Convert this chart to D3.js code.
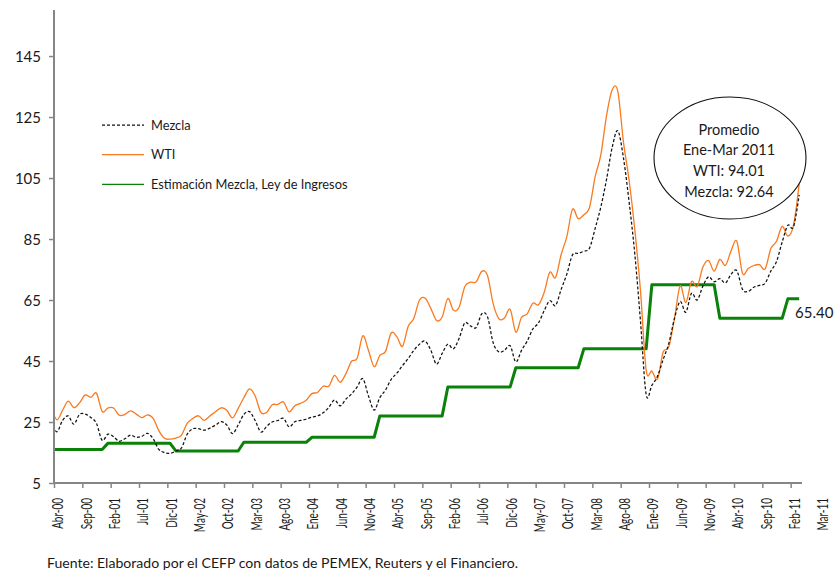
<!DOCTYPE html>
<html>
<head>
<meta charset="utf-8">
<script src="https://cdn.jsdelivr.net/npm/d3@7"></script>
<style>
  body { margin: 0; background: #fff; }
  svg { display: block; }
  text { font-family: Lato, "Open Sans", sans-serif; fill: #1a1a1a; }
</style>
</head>
<body>
<svg id="chart" width="834" height="573"></svg>
<script>
// Monthly prices, US$ per barrel. Index 0 is Mar-00 (it sits just left of the
// axis and is clipped); index 1 is Abr-00 ... last index is Mar-11.
const wti = [
  29.84,
  25.72, 28.79, 31.82, 29.70, 31.26, 33.88, 33.11, 34.42, 28.44,
  29.59, 29.61, 27.24, 27.49, 28.63, 27.60, 26.43, 27.37, 26.20, 22.17, 19.64, 19.39,
  19.72, 20.72, 24.53, 26.18, 27.04, 25.52, 26.97, 28.39, 29.66, 28.84, 26.35, 29.46,
  32.95, 35.83, 33.51, 28.17, 28.11, 30.66, 30.75, 31.57, 28.31, 30.34, 31.11, 32.13,
  34.31, 34.69, 36.74, 36.75, 40.28, 38.03, 40.78, 44.90, 45.94, 53.28, 48.47, 43.15,
  46.84, 48.15, 54.19, 52.98, 49.83, 56.35, 59.00, 64.99, 65.59, 62.26, 58.32, 59.41,
  65.49, 61.63, 62.69, 69.44, 70.84, 70.95, 74.41, 73.04, 63.80, 58.89, 59.08, 61.96,
  54.51, 59.28, 60.44, 63.98, 63.46, 67.49, 74.12, 72.36, 79.92, 85.80, 94.77, 91.69,
  92.97, 95.39, 105.45, 112.58, 125.40, 133.88, 133.37, 116.67, 104.11, 88.00, 68.00, 42.00,
  41.71, 39.09, 47.94, 49.65, 59.03, 69.64, 64.15, 71.05, 69.41, 75.72, 77.99, 74.47,
  78.33, 76.39, 81.20, 84.29, 73.74, 75.34, 76.32, 76.60, 75.24, 81.89, 84.25, 89.15,
  86.00, 89.50, 103.00
];

const mezcla = [
  25.2,
  21.8, 25.5, 27.0, 24.3, 27.5, 27.6, 26.5, 24.5, 19.0,
  21.0, 20.2, 18.7, 19.5, 20.7, 20.0, 20.3, 21.3, 19.5, 16.0, 15.0, 14.7,
  15.5, 16.5, 21.0, 22.8, 22.8, 22.3, 23.0, 24.0, 25.1, 24.0, 21.2, 24.0,
  27.5, 28.4, 25.5, 21.7, 23.5, 25.0, 25.5, 26.2, 23.4, 25.1, 25.5, 25.9,
  26.6, 27.0, 28.0, 29.8, 32.2, 30.3, 32.5, 34.2, 36.5, 39.2, 33.5, 28.9,
  33.0, 35.5, 39.0, 41.0, 43.5, 45.8, 48.5, 50.5, 51.5, 48.5, 44.0, 47.5,
  50.5, 49.0, 52.5, 57.5, 56.5, 56.0, 60.5, 59.5, 51.0, 48.0, 48.5, 50.0,
  44.7, 48.5, 51.5, 55.5, 57.5, 61.5, 64.8, 63.2, 68.5, 73.5, 79.8, 80.3,
  81.0, 82.0, 88.5, 95.5, 104.5, 115.0, 120.5, 111.5, 97.0, 80.0, 58.0, 34.0,
  37.0, 40.0, 45.5, 50.8, 59.0, 64.5, 61.0, 67.2, 65.0, 69.5, 72.6, 71.0,
  72.0, 70.6, 73.5, 74.6, 68.5, 67.8, 69.2, 69.8, 70.5, 74.5, 77.6, 84.0,
  89.5, 89.0, 99.5
];

// Oil price assumed each year in the Ley de Ingresos
const estimateYears  = [2000, 2001, 2002, 2003, 2004, 2005, 2006, 2007, 2008, 2009, 2010, 2011];
const estimateValues = [16.00, 18.00, 15.50, 18.35, 20.00, 27.00, 36.50, 42.80, 49.00, 70.00, 59.00, 65.40];

const tickLabels = [
  "Abr-00", "Sep-00", "Feb-01", "Jul-01", "Dic-01", "May-02", "Oct-02", "Mar-03",
  "Ago-03", "Ene-04", "Jun-04", "Nov-04", "Abr-05", "Sep-05", "Feb-06", "Jul-06",
  "Dic-06", "May-07", "Oct-07", "Mar-08", "Ago-08", "Ene-09", "Jun-09", "Nov-09",
  "Abr-10", "Sep-10", "Feb-11", "Mar-11"
];
const yTicks = [5, 25, 45, 65, 85, 105, 125, 145];

const legendItems = [
  { label: "Mezcla", key: "mezcla" },
  { label: "WTI", key: "wti" },
  { label: "Estimación Mezcla, Ley de Ingresos", key: "est" }
];
const avgNote = ["Promedio", "Ene-Mar 2011", "WTI: 94.01", "Mezcla: 92.64"];
const lastEstimate = estimateValues[estimateValues.length - 1];
const source = "Fuente: Elaborado por el CEFP con datos de PEMEX, Reuters y el Financiero.";

// ---- layout ----
const svg = d3.select("#chart");
const plot = { left: 54, right: 802, top: 10, bottom: 483 };
const nCategories = 132; // Abr-00 .. Mar-11

const x = d3.scaleLinear().domain([0, nCategories]).range([plot.left, plot.right]);
const y = d3.scaleLinear().domain([5, 160.1]).range([plot.bottom, plot.top]);

// data position k -> category k-1, centred in its slot
const cx = k => x(k - 1 + 0.5);

// monthly estimate series built from the yearly values (month 0 = Jan 2000)
const estimate = wti.map((_, k) => {
  const yr = 2000 + Math.floor((k - 1 + 3) / 12);
  return estimateValues[estimateYears.indexOf(yr)];
});

const styles = {
  wti:    { stroke: "#f97a1f", width: 1.3, dash: null },
  mezcla: { stroke: "#111",    width: 1.25, dash: "3,2" },
  est:    { stroke: "#0a820a", width: 3,   dash: null }
};

svg.append("clipPath").attr("id", "plotClip")
  .append("rect")
  .attr("x", plot.left).attr("y", 0)
  .attr("width", plot.right - plot.left).attr("height", plot.bottom);

const smooth = d3.line().x((d, k) => cx(k)).y(d => y(d)).curve(d3.curveCatmullRom.alpha(0));
const straight = d3.line().x((d, k) => cx(k)).y(d => y(d));

const lines = svg.append("g").attr("clip-path", "url(#plotClip)");
lines.append("path").datum(estimate)
  .attr("d", straight).attr("fill", "none")
  .attr("stroke", styles.est.stroke).attr("stroke-width", styles.est.width)
  .attr("stroke-linejoin", "round");
lines.append("path").datum(wti)
  .attr("d", smooth).attr("fill", "none")
  .attr("stroke", styles.wti.stroke).attr("stroke-width", styles.wti.width);
lines.append("path").datum(mezcla)
  .attr("d", smooth).attr("fill", "none")
  .attr("stroke", styles.mezcla.stroke).attr("stroke-width", styles.mezcla.width)
  .attr("stroke-dasharray", styles.mezcla.dash);

// ---- axes ----
const axisColor = "#868686";

const yAxis = svg.append("g")
  .attr("transform", `translate(${plot.left},0)`)
  .call(d3.axisLeft(y).tickValues(yTicks).tickSize(5).tickSizeOuter(0).tickFormat(d3.format("d")));
yAxis.select(".domain").remove();
yAxis.selectAll(".tick line").attr("stroke", axisColor).attr("stroke-width", 1.5);
yAxis.selectAll(".tick text")
  .attr("x", -13).attr("dy", "0.34em")
  .style("font-family", "Lato, sans-serif").style("font-size", "15px").attr("fill", "#1a1a1a");
svg.append("line")
  .attr("x1", plot.left).attr("x2", plot.left)
  .attr("y1", plot.top).attr("y2", plot.bottom)
  .attr("stroke", axisColor).attr("stroke-width", 2);

const xTickPos = d3.range(0, nCategories - 1, 5);
const xAxis = svg.append("g")
  .attr("transform", `translate(0,${plot.bottom})`)
  .call(d3.axisBottom(x).tickValues(xTickPos).tickSize(5).tickSizeOuter(0).tickFormat(""));
xAxis.select(".domain").remove();
xAxis.selectAll(".tick line").attr("stroke", axisColor).attr("stroke-width", 1.5);
svg.append("line")
  .attr("x1", plot.left).attr("x2", plot.right)
  .attr("y1", plot.bottom).attr("y2", plot.bottom)
  .attr("stroke", axisColor).attr("stroke-width", 2);

svg.append("g").selectAll("text").data(tickLabels).join("text")
  .attr("transform", (d, i) => `translate(${x(i * 5 + 0.5) + 6.5},${plot.bottom + 15}) rotate(-90) scale(0.64,1)`)
  .attr("text-anchor", "end")
  .style("font-size", "15.5px")
  .text(d => d);

// ---- legend ----
const legend = svg.append("g");
legendItems.forEach((item, i) => {
  const ly = 125 + i * 29.7;
  const s = styles[item.key];
  legend.append("line")
    .attr("x1", 102).attr("x2", 144).attr("y1", ly).attr("y2", ly)
    .attr("stroke", s.stroke).attr("stroke-width", item.key === "est" ? 1.3 : s.width)
    .attr("stroke-dasharray", s.dash);
  legend.append("text")
    .attr("x", 151).attr("y", ly + 4.5)
    .style("font-size", "12.8px")
    .text(item.label);
});

// ---- note ----
const note = svg.append("g");
note.append("ellipse")
  .attr("cx", 730).attr("cy", 158).attr("rx", 76).attr("ry", 61)
  .attr("fill", "#fff").attr("stroke", "#111").attr("stroke-width", 1.1);
note.selectAll("text").data(avgNote).join("text")
  .attr("x", 729).attr("y", (d, i) => 134.5 + i * 20.8)
  .attr("text-anchor", "middle")
  .style("font-size", "14.5px")
  .text(d => d);

// value label on the last estimate
svg.append("text")
  .attr("x", 795).attr("y", y(lastEstimate) + 19)
  .style("font-size", "15px")
  .text(d3.format(".2f")(lastEstimate));

// ---- source ----
svg.append("text")
  .attr("x", 47).attr("y", 568)
  .style("font-size", "13px")
  .attr("textLength", 471).attr("lengthAdjust", "spacingAndGlyphs")
  .text(source);
</script>
</body>
</html>
